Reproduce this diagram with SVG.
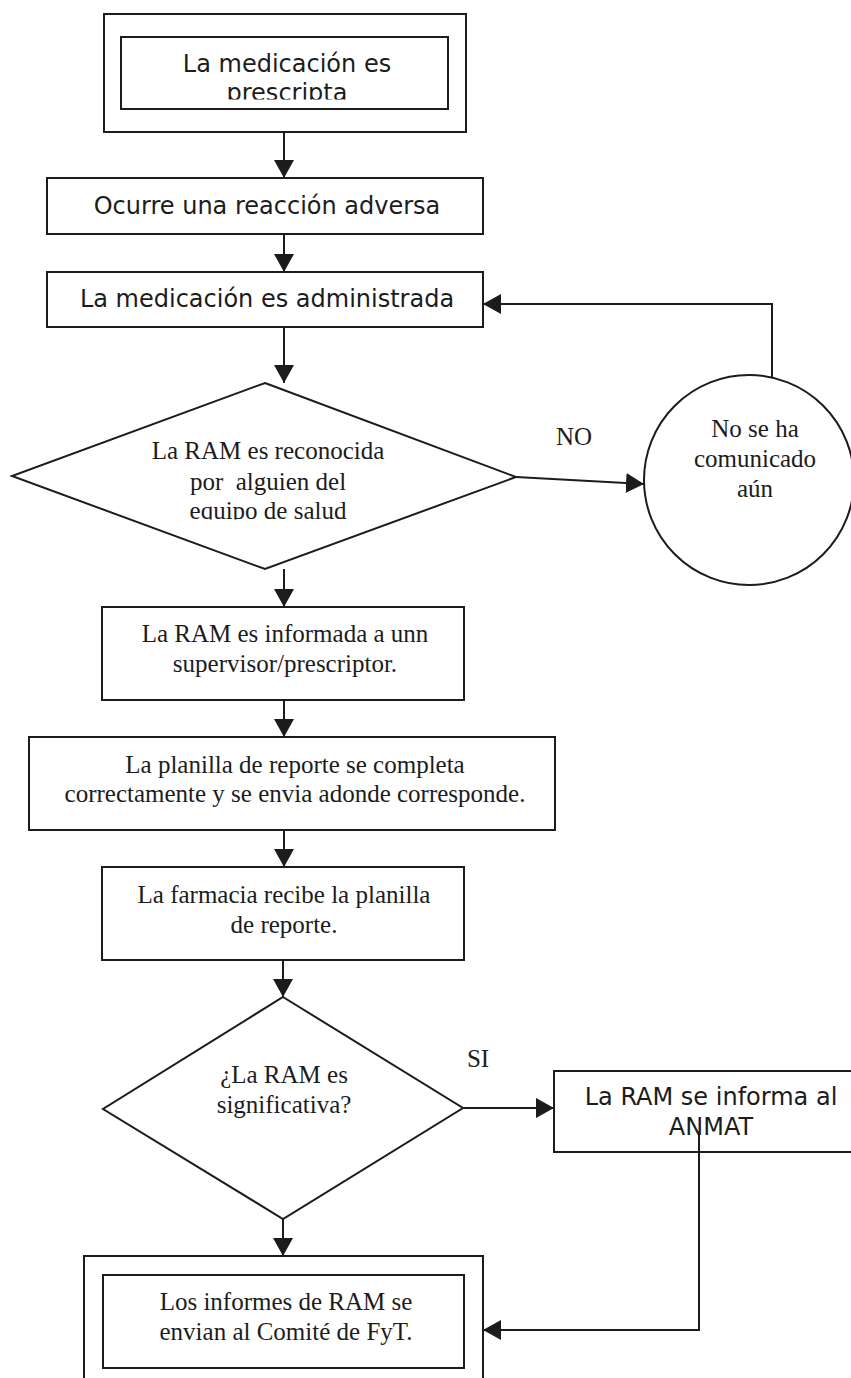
<svg xmlns="http://www.w3.org/2000/svg" width="851" height="1378" viewBox="0 0 851 1378">
<style>
.box{fill:#fff;stroke:#1c1c1c;stroke-width:2}
.sh{fill:#fff;stroke:#1c1c1c;stroke-width:2}
.con{fill:none;stroke:#1c1c1c;stroke-width:2}
.sans{font-family:"DejaVu Sans","Liberation Sans",sans-serif;font-size:24px;fill:#1c1c1c;text-anchor:middle}
.serif{font-family:"Liberation Serif","Times New Roman",serif;font-size:25px;fill:#1c1c1c;text-anchor:middle;white-space:pre}
</style>
<defs>
<marker id="ah" viewBox="0 0 18 20" refX="18" refY="10" markerWidth="18" markerHeight="20" orient="auto" markerUnits="userSpaceOnUse">
<path d="M0,0 L18,10 L0,20 Z" fill="#1c1c1c"/>
</marker>
<clipPath id="clip1"><rect x="121" y="37" width="327" height="62.5"/></clipPath>
<clipPath id="clip2"><rect x="0" y="380" width="520" height="139.5"/></clipPath>
</defs>
<rect width="851" height="1378" fill="#fff"/>

<g id="n1">
<rect class="box" x="104" y="14" width="362" height="118"/>
<rect class="box" x="121" y="37" width="327" height="72"/>
<g clip-path="url(#clip1)">
<text class="sans" x="287" y="72">La medicación es</text>
<text class="sans" x="287" y="101">prescripta</text>
</g>
</g>

<g id="n2">
<rect class="box" x="47" y="178" width="436" height="56"/>
<text class="sans" x="267" y="214">Ocurre una reacción adversa</text>
</g>

<g id="n3">
<rect class="box" x="47" y="272" width="436" height="55"/>
<text class="sans" x="267" y="307">La medicación es administrada</text>
</g>

<g id="n4">
<polygon class="sh" points="265,383 516,477 265,569 12,476"/>
<g clip-path="url(#clip2)">
<text class="serif" x="268" y="459">La RAM es reconocida</text>
<text class="serif" x="268" y="490">por  alguien del</text>
<text class="serif" x="268" y="519">equipo de salud</text>
</g>
</g>

<g id="n5">
<circle class="sh" cx="749" cy="480" r="105"/>
<text class="serif" x="755" y="437">No se ha</text>
<text class="serif" x="755" y="467">comunicado</text>
<text class="serif" x="755" y="497">aún</text>
</g>

<g id="n6">
<rect class="box" x="102" y="607" width="362" height="93"/>
<text class="serif" x="285" y="642">La RAM es informada a unn</text>
<text class="serif" x="285" y="672">supervisor/prescriptor.</text>
</g>

<g id="n7">
<rect class="box" x="29" y="737" width="526" height="93"/>
<text class="serif" x="295" y="773">La planilla de reporte se completa</text>
<text class="serif" x="295" y="802">correctamente y se envia adonde corresponde.</text>
</g>

<g id="n8">
<rect class="box" x="102" y="867" width="362" height="93"/>
<text class="serif" x="284" y="903">La farmacia recibe la planilla</text>
<text class="serif" x="284" y="933">de reporte.</text>
</g>

<g id="n9">
<polygon class="sh" points="283,997 463,1108 283,1219 103,1109"/>
<text class="serif" x="284" y="1083">¿La RAM es</text>
<text class="serif" x="284" y="1113">significativa?</text>
</g>

<g id="n10">
<rect class="box" x="554" y="1071" width="300" height="81"/>
<text class="sans" x="711" y="1105">La RAM se informa al</text>
<text class="sans" x="711" y="1135">ANMAT</text>
</g>

<g id="n11">
<rect class="box" x="84" y="1256" width="399" height="135"/>
<rect class="box" x="103" y="1275" width="361" height="93"/>
<text class="serif" x="286" y="1310">Los informes de RAM se</text>
<text class="serif" x="286" y="1340">envian al Comité de FyT.</text>
</g>

<g id="connectors">
<path class="con" d="M284,132 L284,178" marker-end="url(#ah)"/>
<path class="con" d="M284,234 L284,272" marker-end="url(#ah)"/>
<path class="con" d="M284,327 L284,383" marker-end="url(#ah)"/>
<path class="con" d="M516,477 L644,484" marker-end="url(#ah)"/>
<path class="con" d="M772,377 L772,304 L483,304" marker-end="url(#ah)"/>
<path class="con" d="M284,569 L284,607" marker-end="url(#ah)"/>
<path class="con" d="M284,700 L284,737" marker-end="url(#ah)"/>
<path class="con" d="M284,830 L284,867" marker-end="url(#ah)"/>
<path class="con" d="M283,960 L283,997" marker-end="url(#ah)"/>
<path class="con" d="M463,1108 L554,1108" marker-end="url(#ah)"/>
<path class="con" d="M283,1219 L283,1256" marker-end="url(#ah)"/>
<path class="con" d="M699,1135 L699,1330 L483,1330" marker-end="url(#ah)"/>
<text class="serif" x="574" y="445" font-size="24">NO</text>
<text class="serif" x="478" y="1067" font-size="24">SI</text>
</g>
</svg>
